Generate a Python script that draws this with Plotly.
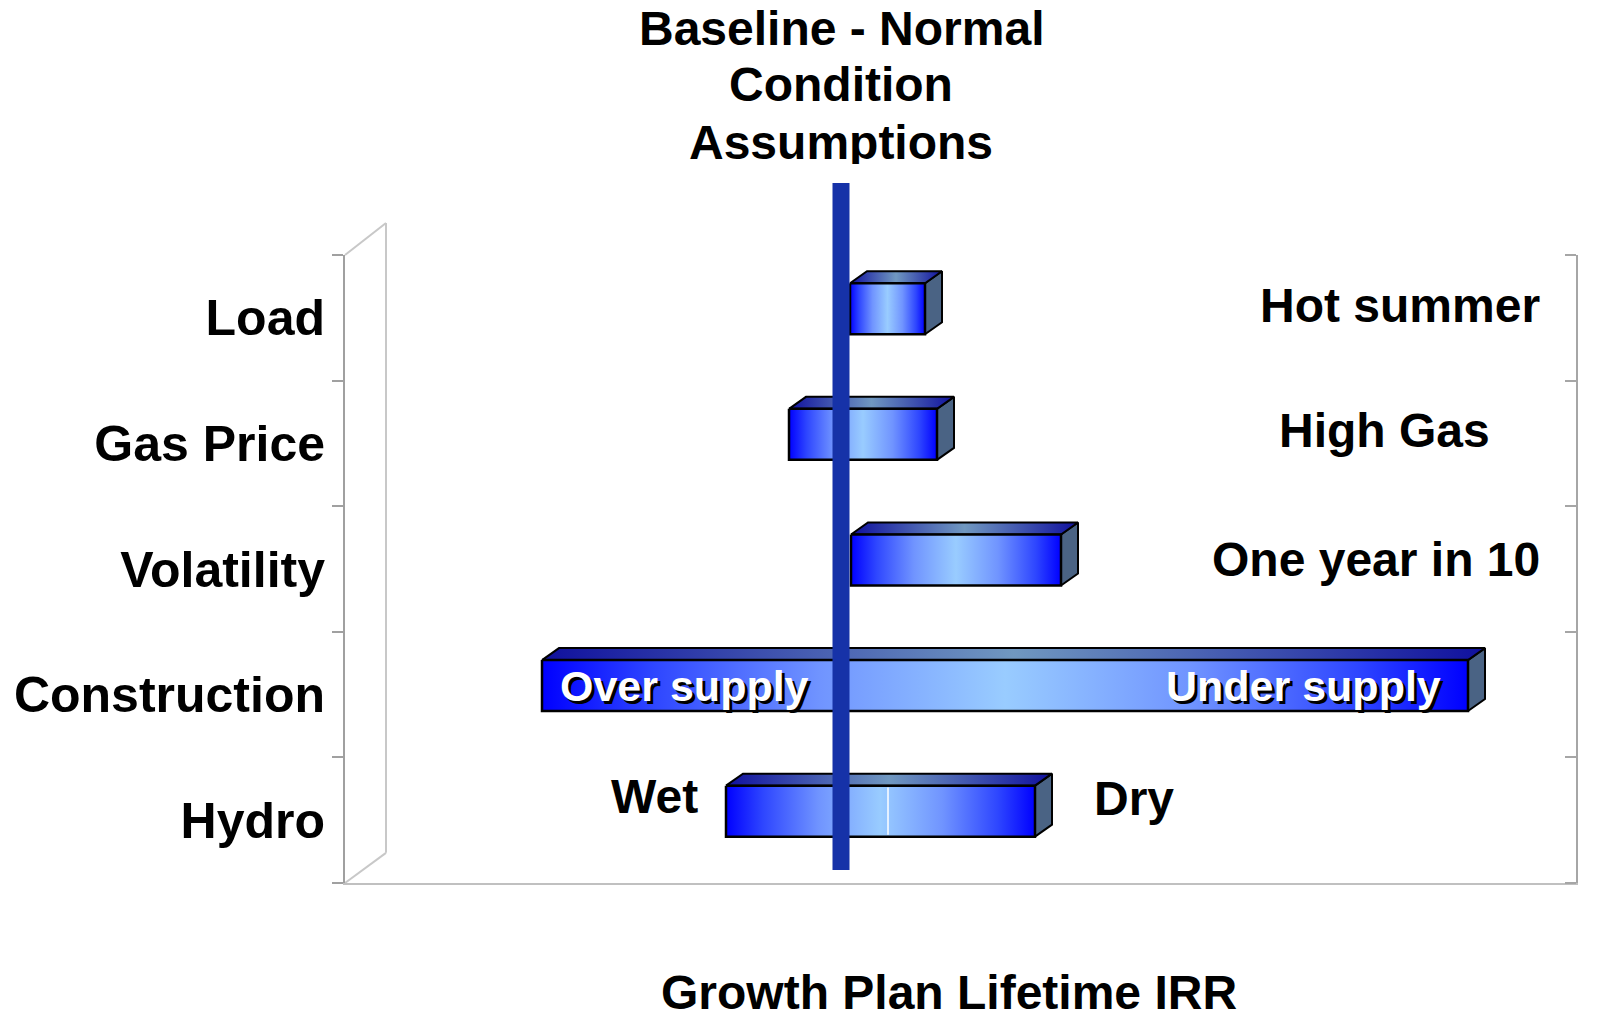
import plotly.graph_objects as go

# ---------------- data ----------------
categories = ["Load", "Gas Price", "Volatility", "Construction", "Hydro"]
irr_low = [10.09, 9.48, 10.10, 7.01, 8.85]      # Growth Plan lifetime IRR, low end (%)
irr_high = [10.84, 10.96, 12.20, 16.27, 11.94]  # high end (%)
hydro_split = 10.47                              # seam between Wet and Dry halves
baseline_irr = 10.0
title_lines = ["Baseline - Normal", "Condition", "Assumptions"]
right_notes = ["Hot summer", "High Gas", "One year in 10"]
x_title = "Growth Plan Lifetime IRR"

# ---------------- style ----------------
FONT = "Liberation Sans"
X_RANGE = [5.04, 17.35]
Y_RANGE = [4.5, -0.5]
OFF = -0.072      # front face centre offset (category units)
HALF = 0.203      # half height of bar front
DX = 0.17         # 3D depth in x units
DY = 0.0955       # 3D depth in y units
front_scale = [[0, "#0000FF"], [0.12, "#2E46FF"], [0.3, "#7094FF"], [0.5, "#99CCFF"],
               [0.7, "#7094FF"], [0.88, "#2E46FF"], [1, "#0000FF"]]
top_scale = [[0, "#10109E"], [0.5, "#7098C0"], [1, "#10109E"]]
side_color = "#4A6384"

fig = go.Figure()

for i, (lo, hi) in enumerate(zip(irr_low, irr_high)):
    c = i + OFF
    top = c - HALF
    bot = c + HALF
    # side face
    fig.add_trace(go.Scatter(
        x=[hi, hi + DX, hi + DX, hi, hi], y=[top, top - DY, bot - DY, bot, top],
        fill="toself", fillcolor=side_color, mode="lines",
        line=dict(color="black", width=2), hoverinfo="skip", showlegend=False))
    # top face
    fig.add_trace(go.Scatter(
        x=[lo, lo + DX, hi + DX, hi, lo], y=[top, top - DY, top - DY, top, top],
        fill="toself", fillgradient=dict(type="horizontal", colorscale=top_scale),
        mode="lines", line=dict(color="black", width=2), hoverinfo="skip", showlegend=False))
    # front face
    fig.add_trace(go.Scatter(
        x=[lo, hi, hi, lo, lo], y=[top, top, bot, bot, top],
        fill="toself", fillgradient=dict(type="horizontal", colorscale=front_scale),
        mode="lines", line=dict(color="black", width=2.5), hoverinfo="skip", showlegend=False))

# seam inside the Hydro bar
hc = 4 + OFF
fig.add_trace(go.Scatter(x=[hydro_split, hydro_split], y=[hc - HALF + 0.015, hc + HALF - 0.015],
                         mode="lines", line=dict(color="white", width=1.5),
                         hoverinfo="skip", showlegend=False))

# helper trace for the right-hand axis
fig.add_trace(go.Scatter(x=[baseline_irr], y=[0], yaxis="y2", mode="markers",
                         marker=dict(opacity=0), hoverinfo="skip", showlegend=False))

bounds = [k - 0.5 for k in range(len(categories) + 1)]

# page body has an 8px margin, so the figure is 8px smaller and margins 8px less
fig.update_layout(
    width=1607, height=1006,
    margin=dict(l=337, r=39, t=247, b=131, autoexpand=False),
    paper_bgcolor="white", plot_bgcolor="white",
    font=dict(family=FONT, color="black"),
    xaxis=dict(range=X_RANGE, showline=True, linecolor="#C0C0C0", linewidth=2, automargin=False,
               showticklabels=False, ticks="", showgrid=False, zeroline=False),
    yaxis=dict(range=Y_RANGE, tickmode="array", tickvals=list(range(len(categories))),
               ticktext=categories, ticks="", showline=True, linecolor="#A0A0A0", linewidth=2,
               showgrid=False, zeroline=False, ticklabelstandoff=8, automargin=False,
               tickfont=dict(family=FONT, size=50, weight="bold", color="black"),
               minor=dict(tickmode="array", tickvals=bounds, ticks="outside", ticklen=11,
                          tickwidth=2, tickcolor="#A0A0A0", showgrid=False)),
    yaxis2=dict(range=Y_RANGE, overlaying="y", side="right", anchor="x", showline=True,
                linecolor="#A6A6A6", linewidth=2, showticklabels=False, ticks="",
                showgrid=False, zeroline=False, automargin=False,
                minor=dict(tickmode="array", tickvals=bounds, ticks="inside", ticklen=11,
                           tickwidth=2, tickcolor="#A6A6A6", showgrid=False)),
)

# left 3D wall
wall = dict(type="line", xref="paper", yref="paper", line=dict(color="#C8C8C8", width=2), layer="below")
fig.add_shape(x0=0, y0=1, x1=0.0333, y1=1.051, **wall)
fig.add_shape(x0=0.0333, y0=1.051, x1=0.0333, y1=0.048, **wall)
fig.add_shape(x0=0.0333, y0=0.048, x1=0, y1=0, **wall)

# baseline marker line
fig.add_shape(type="line", xref="x", yref="paper", x0=baseline_irr, x1=baseline_irr,
              y0=0.0207, y1=1.1146, line=dict(color="#1632A8", width=17), layer="above")

big = dict(family=FONT, size=48, weight="bold", color="black")

# title lines
for txt, yp in zip(title_lines, [1.3615, 1.2723, 1.18]):
    fig.add_annotation(text=txt, xref="x", yref="paper", x=baseline_irr, y=yp, height=44,
                       valign="middle", xanchor="center", yanchor="middle", showarrow=False,
                       font=big)

# right-side notes
for txt, xp, cat, ys in zip(right_notes, [0.9724, 0.9318, 0.9724], [0, 1, 2], [12, 13, 10]):
    fig.add_annotation(text=txt, xref="paper", yref="y", x=xp, y=cat, yshift=ys,
                       xanchor="right", yanchor="middle", showarrow=False, font=big)

# Hydro end labels
fig.add_annotation(text="Wet", xref="x", yref="y", x=irr_low[4], y=4, xshift=-26, yshift=24,
                   xanchor="right", yanchor="middle", showarrow=False, font=big)
fig.add_annotation(text="Dry", xref="x", yref="y", x=irr_high[4], y=4, xshift=57, yshift=22,
                   xanchor="left", yanchor="middle", showarrow=False, font=big)

# Construction in-bar labels
inbar = dict(family=FONT, size=43, weight="bold", color="white", shadow="3px 3px 0px #000000")
fig.add_annotation(text="Over supply", xref="x", yref="y", x=irr_low[3], y=3 + OFF, xshift=16,
                   xanchor="left", yanchor="middle", showarrow=False, font=inbar)
fig.add_annotation(text="Under supply", xref="x", yref="y", x=irr_high[3], y=3 + OFF, xshift=-25,
                   xanchor="right", yanchor="middle", showarrow=False, font=inbar)

# x axis title
fig.add_annotation(text=x_title, xref="paper", yref="paper", x=0.4907, y=-0.1736, height=40,
                   valign="middle", xanchor="center", yanchor="middle", showarrow=False, font=big)

fig.write_html("out.html")
